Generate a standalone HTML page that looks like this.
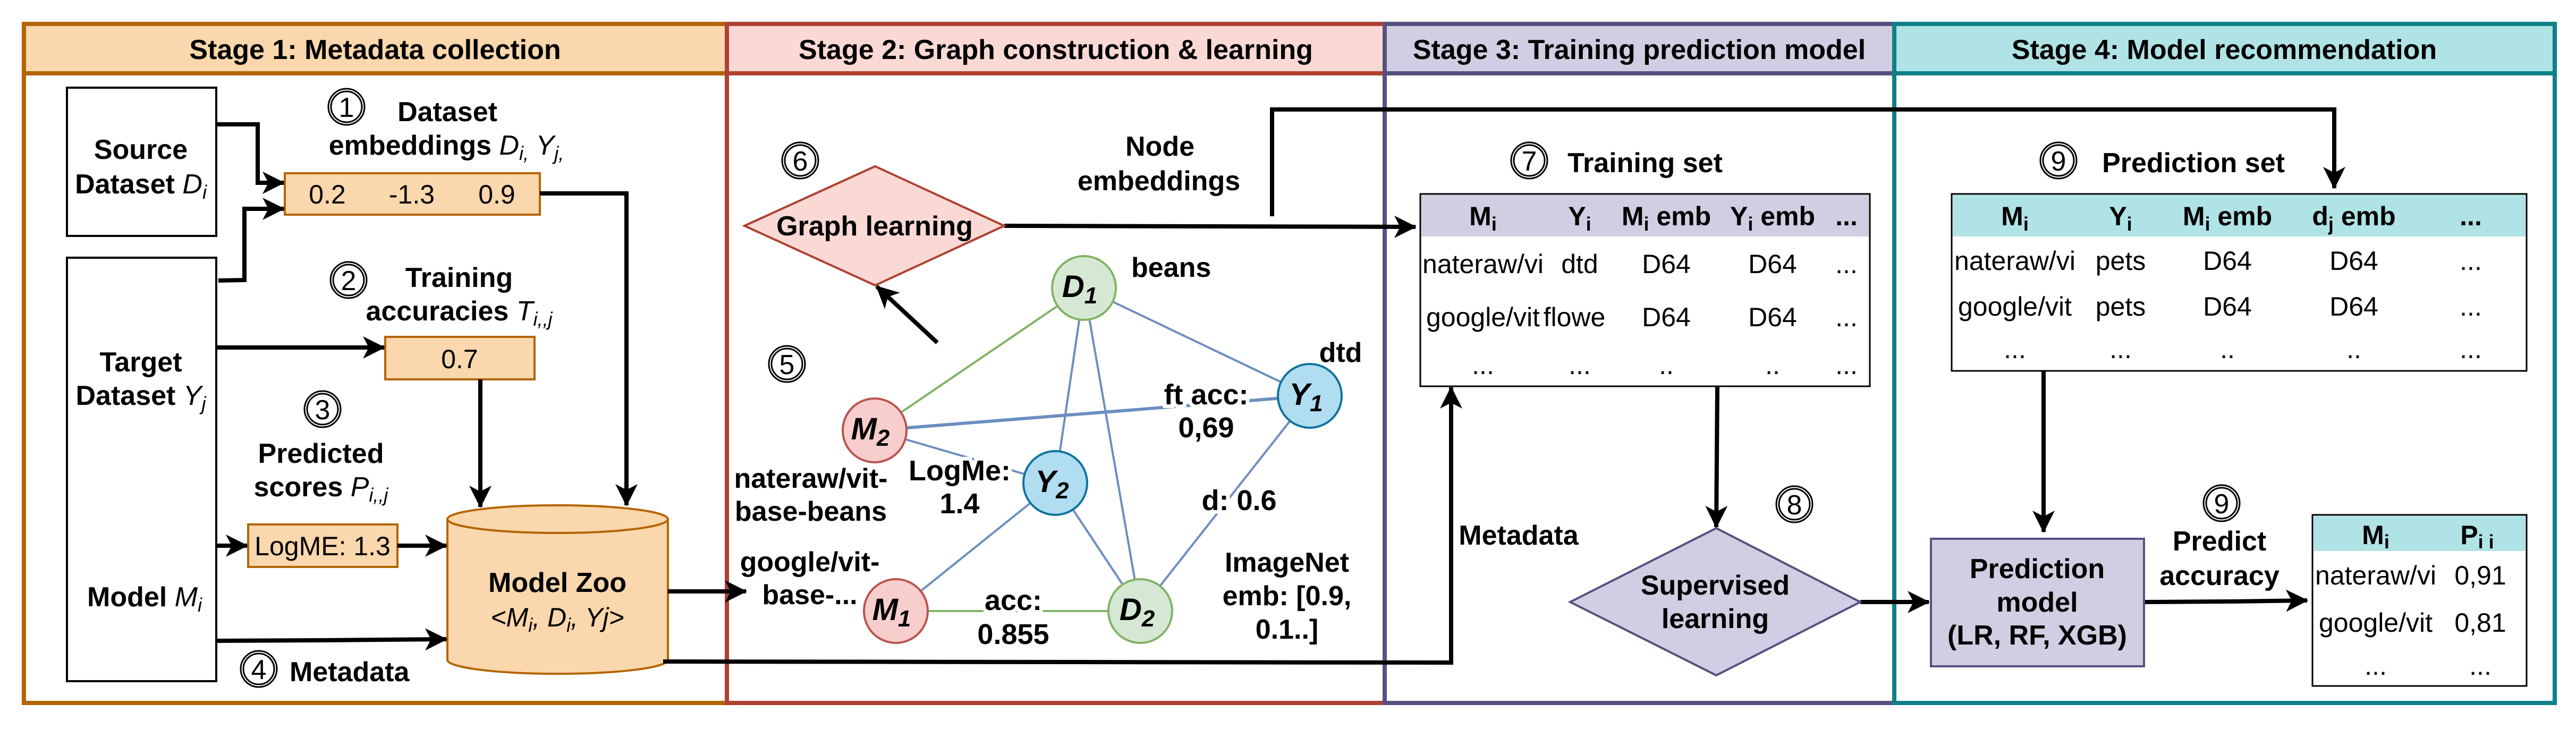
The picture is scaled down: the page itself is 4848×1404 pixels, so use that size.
<!DOCTYPE html>
<html><head><meta charset="utf-8"><style>
html,body{margin:0;padding:0;background:#fff;}
svg{display:block;}
text{font-family:"Liberation Sans",Arial,sans-serif;}
.b{font-weight:bold;}
.h{font-size:52px;font-weight:bold;}
.l{font-size:52px;font-weight:bold;}
.r{font-size:50px;}
.n{font-size:58px;font-weight:bold;font-style:italic;}
.e{font-size:54px;font-weight:bold;paint-order:stroke;stroke:#fff;stroke-width:14px;}
</style></head><body>
<svg width="4848" height="1404" viewBox="0 0 4848 1404" xmlns="http://www.w3.org/2000/svg">
<defs>
<marker id="a" markerWidth="46" markerHeight="46" refX="40" refY="23" orient="auto" markerUnits="userSpaceOnUse">
<path d="M0,2 L42,23 L0,44 L11,23 z" fill="#000"/></marker>
</defs>
<rect width="4848" height="1404" fill="#fff"/>

<rect x="45" y="45" width="1323" height="93" fill="#fad7ac"/>
<rect x="1368" y="45" width="1238" height="93" fill="#fad9d5"/>
<rect x="2606" y="45" width="959" height="93" fill="#d0cee2"/>
<rect x="3565" y="45" width="1243" height="93" fill="#b0e3e6"/>
<g fill="none" stroke-width="8">
<rect x="45" y="45" width="1323" height="1278" stroke="#b46504"/>
<line x1="45" y1="138" x2="1368" y2="138" stroke="#b46504"/>
<rect x="1368" y="45" width="1238" height="1278" stroke="#ae4132"/>
<line x1="1368" y1="138" x2="2606" y2="138" stroke="#ae4132"/>
<rect x="2606" y="45" width="959" height="1278" stroke="#56517e"/>
<line x1="2606" y1="138" x2="3565" y2="138" stroke="#56517e"/>
<rect x="3565" y="45" width="1243" height="1278" stroke="#0e8088"/>
<line x1="3565" y1="138" x2="4808" y2="138" stroke="#0e8088"/>
</g>
<text class="h" x="706" y="111" text-anchor="middle">Stage 1: Metadata collection</text>
<text class="h" x="1987" y="111" text-anchor="middle">Stage 2: Graph construction &amp; learning</text>
<text class="h" x="3085" y="111" text-anchor="middle">Stage 3: Training prediction model</text>
<text class="h" x="4186" y="111" text-anchor="middle">Stage 4: Model recommendation</text>

<g fill="none" stroke="#000" stroke-width="3">
<circle cx="652" cy="201" r="34"/><circle cx="652" cy="201" r="29"/>
<circle cx="656" cy="527" r="34"/><circle cx="656" cy="527" r="29"/>
<circle cx="607" cy="770" r="34"/><circle cx="607" cy="770" r="29"/>
<circle cx="487" cy="1259" r="34"/><circle cx="487" cy="1259" r="29"/>
<circle cx="1506" cy="302" r="34"/><circle cx="1506" cy="302" r="29"/>
<circle cx="1481" cy="685" r="34"/><circle cx="1481" cy="685" r="29"/>
<circle cx="2878" cy="302" r="34"/><circle cx="2878" cy="302" r="29"/>
<circle cx="3377" cy="949" r="34"/><circle cx="3377" cy="949" r="29"/>
<circle cx="3874" cy="302" r="34"/><circle cx="3874" cy="302" r="29"/>
<circle cx="4181" cy="947" r="34"/><circle cx="4181" cy="947" r="29"/>
</g>
<g font-size="52" text-anchor="middle">
<text x="652" y="220">1</text><text x="656" y="546">2</text><text x="607" y="789">3</text>
<text x="487" y="1278">4</text><text x="1506" y="321">6</text><text x="1481" y="704">5</text>
<text x="2878" y="321">7</text><text x="3377" y="968">8</text><text x="3874" y="321">9</text>
<text x="4181" y="966">9</text>
</g>

<rect x="126" y="165" width="281" height="279" fill="#fff" stroke="#000" stroke-width="4"/>
<rect x="126" y="485" width="281" height="797" fill="#fff" stroke="#000" stroke-width="4"/>
<text class="l" x="265" y="299" text-anchor="middle">Source</text>
<text class="l" x="265" y="364" text-anchor="middle">Dataset <tspan font-style="italic" font-weight="normal">D<tspan font-size="36" dy="10">i</tspan></tspan></text>
<text class="l" x="265" y="699" text-anchor="middle">Target</text>
<text class="l" x="265" y="762" text-anchor="middle">Dataset <tspan font-style="italic" font-weight="normal">Y<tspan font-size="36" dy="10">j</tspan></tspan></text>
<text class="l" x="272" y="1141" text-anchor="middle">Model <tspan font-style="italic" font-weight="normal">M<tspan font-size="36" dy="10">i</tspan></tspan></text>

<rect x="536" y="326" width="480" height="78" fill="#fad7ac" stroke="#b46504" stroke-width="4"/>
<text class="r" x="616" y="383" text-anchor="middle">0.2</text>
<text class="r" x="775" y="383" text-anchor="middle">-1.3</text>
<text class="r" x="935" y="383" text-anchor="middle">0.9</text>
<text class="l" x="842" y="228" text-anchor="middle">Dataset</text>
<text class="l" x="840" y="291" text-anchor="middle">embeddings <tspan font-style="italic" font-weight="normal">D<tspan font-size="36" dy="10">i,</tspan><tspan dy="-10"> Y</tspan><tspan font-size="36" dy="10">j,</tspan></tspan></text>

<text class="l" x="864" y="540" text-anchor="middle">Training</text>
<text class="l" x="864" y="603" text-anchor="middle">accuracies <tspan font-style="italic" font-weight="normal">T<tspan font-size="36" dy="10">i,,j</tspan></tspan></text>
<rect x="725" y="634" width="281" height="80" fill="#fad7ac" stroke="#b46504" stroke-width="4"/>
<text class="r" x="865" y="693" text-anchor="middle">0.7</text>

<text class="l" x="604" y="871" text-anchor="middle">Predicted</text>
<text class="l" x="604" y="934" text-anchor="middle">scores <tspan font-style="italic" font-weight="normal">P<tspan font-size="36" dy="10">i,,j</tspan></tspan></text>
<rect x="467" y="987" width="281" height="80" fill="#fad7ac" stroke="#b46504" stroke-width="4"/>
<text class="r" x="607" y="1045" text-anchor="middle">LogME: 1.3</text>

<path d="M842,977 L842,1242 A207,26 0 0 0 1257,1242 L1257,977" fill="#fad7ac" stroke="#b46504" stroke-width="4"/>
<ellipse cx="1049.5" cy="977" rx="207.5" ry="26" fill="#fad7ac" stroke="#b46504" stroke-width="4"/>
<text class="l" x="1049" y="1114" text-anchor="middle">Model Zoo</text>
<text x="1049" y="1179" font-size="50" font-style="italic" text-anchor="middle">&lt;M<tspan font-size="36" dy="10">i</tspan><tspan dy="-10">, D</tspan><tspan font-size="36" dy="10">i</tspan><tspan dy="-10">, Yj&gt;</tspan></text>
<text class="l" x="545" y="1282">Metadata</text>

<g fill="none" stroke="#000" stroke-width="8" marker-end="url(#a)">
<polyline points="407,234 485,234 485,344 534,344"/>
<polyline points="411,528 460,527 460,393 534,393"/>
<polyline points="1016,364 1179,364 1179,951"/>
<line x1="407" y1="654" x2="723" y2="654"/>
<polyline points="904,714 904,954"/>
<line x1="407" y1="1027" x2="465" y2="1027"/>
<line x1="748" y1="1027" x2="840" y2="1027"/>
<polyline points="407,1206 600,1205 840,1203"/>
<line x1="1257" y1="1113" x2="1404" y2="1113"/>
<polyline points="1248,1245 2731,1247 2731,729"/>
<line x1="1890" y1="425" x2="2664" y2="427"/>
<polyline points="2394,407 2394,206 4393,206 4393,354"/>
<line x1="1764" y1="645" x2="1650" y2="539"/>
<line x1="3232" y1="727" x2="3230" y2="992"/>
<line x1="3501" y1="1133" x2="3630" y2="1133"/>
<line x1="3846" y1="698" x2="3846" y2="1001"/>
<polyline points="4035,1133 4200,1132 4342,1130"/>
</g>

<polygon points="1401,425 1647,313 1890,425 1647,537" fill="#fad9d5" stroke="#ae4132" stroke-width="4"/>
<text class="l" x="1646" y="443" text-anchor="middle">Graph learning</text>
<text class="l" x="2183" y="293" text-anchor="middle">Node</text>
<text class="l" x="2181" y="358" text-anchor="middle">embeddings</text>

<g stroke-width="4" fill="none">
<line x1="1646" y1="810" x2="2040" y2="542" stroke="#82b366"/>
<line x1="1686" y1="1150" x2="2146" y2="1150" stroke="#82b366"/>
<line x1="2040" y1="542" x2="1986" y2="909" stroke="#6c8ebf"/>
<line x1="2040" y1="542" x2="2146" y2="1150" stroke="#6c8ebf"/>
<line x1="2040" y1="542" x2="2465" y2="745" stroke="#6c8ebf"/>
<line x1="1646" y1="810" x2="2465" y2="745" stroke="#6c8ebf" stroke-width="6"/>
<line x1="1646" y1="810" x2="1986" y2="909" stroke="#6c8ebf"/>
<line x1="1986" y1="909" x2="1686" y2="1150" stroke="#6c8ebf"/>
<line x1="1986" y1="909" x2="2146" y2="1150" stroke="#6c8ebf"/>
<line x1="2465" y1="745" x2="2146" y2="1150" stroke="#6c8ebf"/>
</g>
<text class="e" x="2270" y="761" text-anchor="middle">ft acc:</text>
<text class="e" x="2270" y="823" text-anchor="middle">0,69</text>
<text class="e" x="1806" y="904" text-anchor="middle">LogMe:</text>
<text class="e" x="1806" y="966" text-anchor="middle">1.4</text>
<text class="e" x="1907" y="1148" text-anchor="middle">acc:</text>
<text class="e" x="1907" y="1212" text-anchor="middle">0.855</text>
<text class="e" x="2332" y="960" text-anchor="middle">d: 0.6</text>

<g stroke-width="4">
<circle cx="2040" cy="542" r="60" fill="#d5e8d4" stroke="#82b366"/>
<circle cx="2146" cy="1150" r="60" fill="#d5e8d4" stroke="#82b366"/>
<circle cx="2465" cy="745" r="60" fill="#b1ddf0" stroke="#10739e"/>
<circle cx="1986" cy="909" r="60" fill="#b1ddf0" stroke="#10739e"/>
<circle cx="1646" cy="810" r="60" fill="#f8cecc" stroke="#b85450"/>
<circle cx="1686" cy="1150" r="60" fill="#f8cecc" stroke="#b85450"/>
</g>
<text class="n" x="2032" y="559" text-anchor="middle">D<tspan font-size="44" dy="12">1</tspan></text>
<text class="n" x="2140" y="1167" text-anchor="middle">D<tspan font-size="44" dy="12">2</tspan></text>
<text class="n" x="2458" y="762" text-anchor="middle">Y<tspan font-size="44" dy="12">1</tspan></text>
<text class="n" x="1980" y="926" text-anchor="middle">Y<tspan font-size="44" dy="12">2</tspan></text>
<text class="n" x="1638" y="827" text-anchor="middle">M<tspan font-size="44" dy="12">2</tspan></text>
<text class="n" x="1678" y="1167" text-anchor="middle">M<tspan font-size="44" dy="12">1</tspan></text>

<text class="l" x="2129" y="521">beans</text>
<text class="l" x="2523" y="681" text-anchor="middle">dtd</text>
<text class="l" x="1526" y="918" text-anchor="middle">nateraw/vit-</text>
<text class="l" x="1526" y="980" text-anchor="middle">base-beans</text>
<text class="l" x="1524" y="1075" text-anchor="middle">google/vit-</text>
<text class="l" x="1524" y="1137" text-anchor="middle">base-...</text>
<text class="l" x="2422" y="1076" text-anchor="middle">ImageNet</text>
<text class="l" x="2422" y="1139" text-anchor="middle">emb: [0.9,</text>
<text class="l" x="2422" y="1202" text-anchor="middle">0.1..]</text>

<text class="l" x="3096" y="324" text-anchor="middle">Training set</text>
<rect x="2673" y="365" width="846" height="362" fill="#fff" stroke="#000" stroke-width="3"/>
<rect x="2675" y="367" width="842" height="78" fill="#d0cee2"/>
<g class="b" font-size="50" text-anchor="middle">
<text x="2791" y="424">M<tspan font-size="36" dy="10">i</tspan></text>
<text x="2973" y="424">Y<tspan font-size="36" dy="10">i</tspan></text>
<text x="3136" y="424">M<tspan font-size="36" dy="10">i</tspan><tspan dy="-10"> emb</tspan></text>
<text x="3336" y="424">Y<tspan font-size="36" dy="10">i</tspan><tspan dy="-10"> emb</tspan></text>
<text x="3475" y="424">...</text>
</g>
<g font-size="50" text-anchor="middle">
<text x="2791" y="514">nateraw/vi</text><text x="2973" y="514">dtd</text><text x="3136" y="514">D64</text><text x="3336" y="514">D64</text><text x="3475" y="514">...</text>
<text x="2791" y="614">google/vit</text><text x="2963" y="614">flowe</text><text x="3136" y="614">D64</text><text x="3336" y="614">D64</text><text x="3475" y="614">...</text>
<text x="2791" y="704">...</text><text x="2973" y="704">...</text><text x="3136" y="704">..</text><text x="3336" y="704">..</text><text x="3475" y="704">...</text>
</g>
<text class="l" x="2858" y="1025" text-anchor="middle">Metadata</text>
<polygon points="2955,1133 3230,994 3501,1133 3230,1271" fill="#d0cee2" stroke="#56517e" stroke-width="4"/>
<text class="l" x="3228" y="1119" text-anchor="middle">Supervised</text>
<text class="l" x="3228" y="1182" text-anchor="middle">learning</text>

<text class="l" x="4128" y="324" text-anchor="middle">Prediction set</text>
<rect x="3673" y="365" width="1082" height="333" fill="#fff" stroke="#000" stroke-width="3"/>
<rect x="3675" y="367" width="1078" height="78" fill="#b0e3e6"/>
<g class="b" font-size="50" text-anchor="middle">
<text x="3792" y="424">M<tspan font-size="36" dy="10">i</tspan></text>
<text x="3991" y="424">Y<tspan font-size="36" dy="10">i</tspan></text>
<text x="4192" y="424">M<tspan font-size="36" dy="10">i</tspan><tspan dy="-10"> emb</tspan></text>
<text x="4430" y="424">d<tspan font-size="36" dy="10">j</tspan><tspan dy="-10"> emb</tspan></text>
<text x="4650" y="424">...</text>
</g>
<g font-size="50" text-anchor="middle">
<text x="3792" y="508">nateraw/vi</text><text x="3991" y="508">pets</text><text x="4192" y="508">D64</text><text x="4430" y="508">D64</text><text x="4650" y="508">...</text>
<text x="3792" y="594">google/vit</text><text x="3991" y="594">pets</text><text x="4192" y="594">D64</text><text x="4430" y="594">D64</text><text x="4650" y="594">...</text>
<text x="3792" y="674">...</text><text x="3991" y="674">...</text><text x="4192" y="674">..</text><text x="4430" y="674">..</text><text x="4650" y="674">...</text>
</g>
<rect x="3634" y="1014" width="401" height="240" fill="#d0cee2" stroke="#56517e" stroke-width="4"/>
<text class="l" x="3834" y="1088" text-anchor="middle">Prediction</text>
<text class="l" x="3834" y="1151" text-anchor="middle">model</text>
<text class="l" x="3834" y="1213" text-anchor="middle">(LR, RF,  XGB)</text>
<text class="l" x="4177" y="1036" text-anchor="middle">Predict</text>
<text class="l" x="4177" y="1101" text-anchor="middle">accuracy</text>
<rect x="4352" y="969" width="403" height="322" fill="#fff" stroke="#000" stroke-width="3"/>
<rect x="4354" y="971" width="399" height="66" fill="#b0e3e6"/>
<g class="b" font-size="50" text-anchor="middle">
<text x="4471" y="1024">M<tspan font-size="36" dy="8">i</tspan></text>
<text x="4662" y="1024">P<tspan font-size="36" dy="8">i i</tspan></text>
</g>
<g font-size="50" text-anchor="middle">
<text x="4471" y="1100">nateraw/vi</text><text x="4668" y="1100">0,91</text>
<text x="4471" y="1189">google/vit</text><text x="4668" y="1189">0,81</text>
<text x="4471" y="1270">...</text><text x="4668" y="1270">...</text>
</g>
</svg>
</body></html>
